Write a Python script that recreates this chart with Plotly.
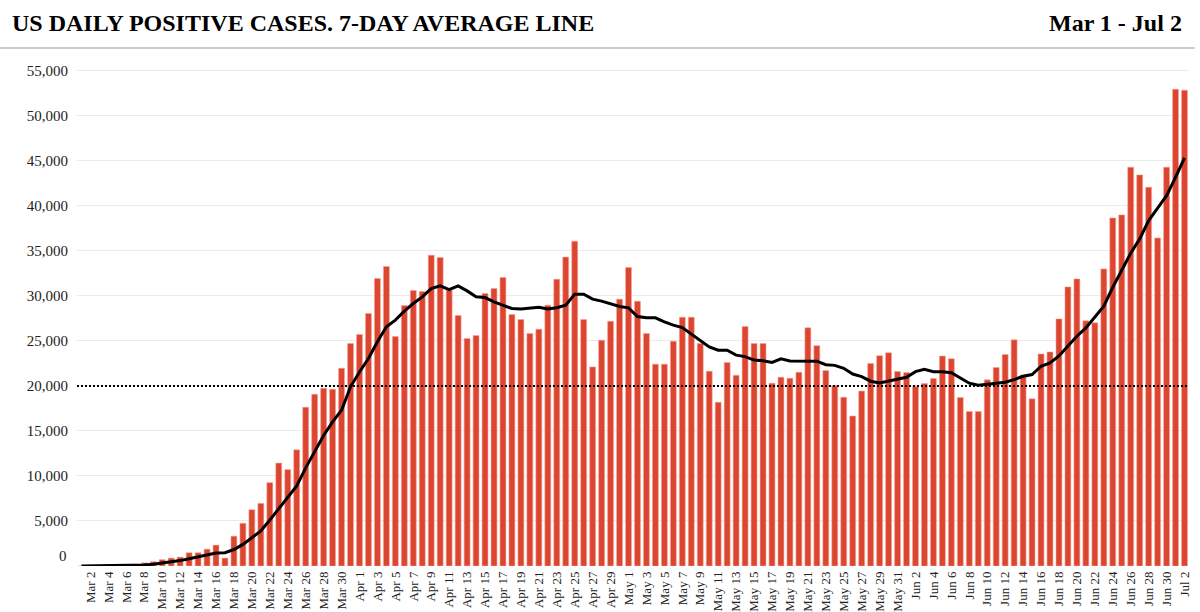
import pandas as pd
import plotly.graph_objects as go

# ---------------- data ----------------
dates = [d.strftime("%b ") + str(d.day) for d in pd.date_range("2020-03-01", "2020-07-02")]

cases_mar = [10, 20, 30, 40, 60, 90, 200, 350, 480, 700, 880, 990, 1470, 1470, 1870, 2320,
             880, 3310, 4740, 6250, 6950, 9260, 11430, 10700, 12900, 17630, 19070, 19740,
             19630, 21960, 24700]
cases_apr = [25700, 28040, 31930, 33260, 25480, 28930, 30590, 30480, 34520, 34260, 30630,
             27810, 25260, 25590, 30260, 30810, 32040, 27930, 27370, 25810, 26300, 28960,
             31850, 34300, 36070, 27370, 22110, 25070, 27180, 29630]
cases_may = [33150, 29410, 25810, 22410, 22410, 24960, 27630, 27630, 24700, 21630, 18180,
             22590, 21170, 26600, 24700, 24700, 20300, 20960, 20850, 21510, 26450, 24470,
             21700, 20040, 18740, 16650, 19420, 22500, 23350, 23680, 21600]
cases_jun = [21500, 19940, 20260, 20810, 23310, 23020, 18700, 17150, 17150, 20670, 22040,
             23480, 25110, 21220, 18560, 23550, 23770, 27440, 30990, 31880, 27220, 27000,
             32990, 38650, 38990, 44280, 43430, 42060, 36430, 44280]
cases_jul = [52940, 52830]
cases = cases_mar + cases_apr + cases_may + cases_jun + cases_jul

avg_mar = [10, 15, 20, 30, 40, 60, 80, 120, 200, 320, 440, 600, 800, 990, 1200, 1450, 1480,
           1830, 2400, 3100, 3900, 5100, 6400, 7700, 8900, 10900, 12700, 14500, 16000,
           17300, 19900]
avg_apr = [21550, 23040, 24900, 26560, 27300, 28300, 29150, 29890, 30800, 31110, 30700,
           31110, 30550, 29890, 29810, 29330, 28960, 28590, 28550, 28630, 28740, 28550,
           28670, 28960, 30190, 30190, 29630, 29410, 29110, 28810]
avg_may = [28670, 27700, 27560, 27560, 27110, 26740, 26480, 25740, 25000, 24330, 23960,
           23960, 23410, 23250, 22870, 22800, 22610, 23010, 22760, 22760, 22760, 22740,
           22350, 22280, 21950, 21320, 21030, 20520, 20330, 20520, 20770]
avg_jun = [20960, 21580, 21840, 21580, 21580, 21470, 20900, 20300, 20070, 20190, 20330,
           20410, 20700, 21070, 21260, 22180, 22550, 23330, 24440, 25510, 26440, 27620,
           28850, 30950, 32800, 34730, 36320, 38360, 39730, 41130]
avg_jul = [43170, 45310]
avg = avg_mar + avg_apr + avg_may + avg_jun + avg_jul

xtick_labels = dates[1::2]
ytick_vals = [5000, 10000, 15000, 20000, 25000, 30000, 35000, 40000, 45000, 50000, 55000]
reference_level = 20000
title_text = "US DAILY POSITIVE CASES. 7-DAY AVERAGE LINE"
range_text = "Mar 1 - Jul 2"

# ---------------- layout geometry ----------------
W, H = 1200, 612
L, R, T, B = 77, 11, 68, 46
PW, PH = W - L - R, H - T - B


def px(xp):
    return (xp - L) / PW


def py(yp):
    return (H - B - yp) / PH


SERIF = "Liberation Serif, Times New Roman, serif"

fig = go.Figure()
fig.add_trace(go.Bar(
    x=dates, y=cases,
    marker=dict(color="#dc4530", line=dict(color="#f3a596", width=0.6)),
    hoverinfo="x+y",
))
fig.add_trace(go.Scatter(
    x=dates, y=avg, mode="lines",
    line=dict(color="black", width=3),
))

fig.update_layout(
    width=W, height=H,
    margin=dict(l=L, r=R, t=T, b=B, autoexpand=False),
    paper_bgcolor="white", plot_bgcolor="white",
    showlegend=False,
    bargap=0.34,
    font=dict(family=SERIF, color="#222"),
    xaxis=dict(
        type="category",
        range=[-0.5, len(dates) - 0.5],
        tickmode="array", tickvals=xtick_labels, ticktext=xtick_labels,
        tickangle=-90,
        tickfont=dict(family=SERIF, size=13, color="#222"),
        showgrid=False, zeroline=False, showline=False,
        ticks="", ticklabelstandoff=2, automargin=False,
    ),
    yaxis=dict(
        range=[0, 55300],
        tickmode="array", tickvals=ytick_vals,
        tickformat=",d",
        tickfont=dict(family=SERIF, size=15, color="#222"),
        showgrid=True, gridcolor="#ebebeb", gridwidth=1,
        zeroline=False, showline=False, ticks="",
        ticklabelstandoff=8, automargin=False,
    ),
    annotations=[
        dict(text="<b>" + title_text + "</b>", xref="paper", yref="paper",
             x=px(10), y=py(23), xanchor="left", yanchor="middle", showarrow=False,
             font=dict(family=SERIF, size=24, color="black")),
        dict(text="<b>" + range_text + "</b>", xref="paper", yref="paper",
             x=px(1184), y=py(23), xanchor="right", yanchor="middle", showarrow=False,
             font=dict(family=SERIF, size=24, color="black")),
        dict(text="0", xref="paper", yref="y", x=0, y=0, xshift=-8,
             xanchor="right", yanchor="middle", yshift=10, showarrow=False,
             font=dict(family=SERIF, size=15, color="#222")),
    ],
    shapes=[
        dict(type="line", xref="paper", yref="paper", x0=px(0), x1=px(1195),
             y0=py(48), y1=py(48), line=dict(color="#bdbdbd", width=1.5)),
        dict(type="line", xref="paper", yref="y", x0=0, x1=1,
             y0=reference_level, y1=reference_level,
             line=dict(color="black", width=2, dash="2px,2px")),
    ],
)

fig.write_html("out.html", config={"displayModeBar": False},
               post_script="document.body.style.margin='0';")
